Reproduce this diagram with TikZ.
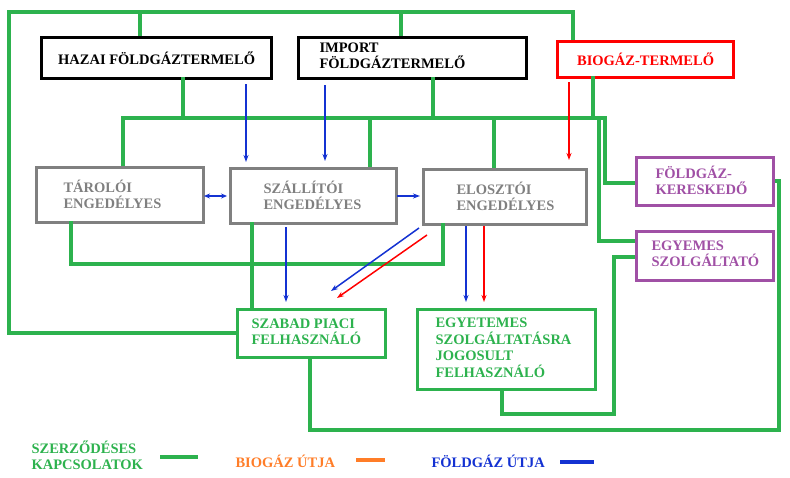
\documentclass[tikz,border=0pt]{standalone}
\usepackage{fontspec}
\setmainfont{Liberation Serif}
\usetikzlibrary{arrows.meta}
\begin{document}
\begin{tikzpicture}[x=1pt,y=-1pt,
  every node/.style={font=\fontsize{14.5}{16}\selectfont\bfseries},
  box/.style={draw,line width=3.2pt,anchor=north west,inner sep=0pt,align=left},
  gl/.style={draw=grn,line width=3.2pt},
  ba/.style={draw=blu,line width=1.5pt,-{Stealth[length=7pt,width=5pt]}},
  ra/.style={draw=red,line width=1.5pt,-{Stealth[length=7pt,width=5pt]}}]
\definecolor{grn}{RGB}{45,178,78}
\definecolor{blu}{RGB}{20,50,210}
\definecolor{pur}{RGB}{160,80,165}
\definecolor{gry}{RGB}{128,128,128}
\definecolor{org}{RGB}{255,125,40}
\useasboundingbox (0,0) rectangle (790,477);
% boxes
\node[box,minimum width=230pt,minimum height=41pt] (haz) at (40,36) {};
\node at (haz.center) {HAZAI FÖLDGÁZTERMELŐ};
\node[box,minimum width=228pt,minimum height=41pt] (imp) at (297,36) {};
\node[align=left,anchor=west] at (316,56) {IMPORT\\FÖLDGÁZTERMELŐ};
\node[box,draw=red,text=red,minimum width=176pt,minimum height=36pt] (bio) at (556,40) {};
\node[text=red] at (bio.center) {BIOGÁZ-TERMELŐ};
\node[box,draw=gry,minimum width=167pt,minimum height=55pt] (tar) at (35,166) {};
\node[text=gry,align=left,anchor=west] at (60,194) {TÁROLÓI\\ENGEDÉLYES};
\node[box,draw=gry,minimum width=166pt,minimum height=55pt] (sza) at (229,167) {};
\node[text=gry,align=left,anchor=west] at (260,195) {SZÁLLÍTÓI\\ENGEDÉLYES};
\node[box,draw=gry,minimum width=163pt,minimum height=55pt] (elo) at (422,168) {};
\node[text=gry,align=left,anchor=west] at (453,196) {ELOSZTÓI\\ENGEDÉLYES};
\node[box,draw=pur,minimum width=137pt,minimum height=48pt] (ker) at (635,156) {};
\node[text=pur,align=left,anchor=west] at (652,180) {FÖLDGÁZ-\\KERESKEDŐ};
\node[box,draw=pur,minimum width=137pt,minimum height=49pt] (egy) at (635,230) {};
\node[text=pur,align=left,anchor=west] at (648,254) {EGYEMES\\SZOLGÁLTATÓ};
\node[box,draw=grn,minimum width=148pt,minimum height=48pt] (fel) at (236,308) {};
\node[text=grn,align=left,anchor=west] at (248,332) {SZABAD PIACI\\FELHASZNÁLÓ};
\node[box,draw=grn,minimum width=178pt,minimum height=80pt] (jog) at (416,308) {};
\node[text=grn,align=left,anchor=west,font=\fontsize{14.5}{16.5}\selectfont\bfseries] at (432,348) {EGYETEMES\\SZOLGÁLTATÁSRA\\JOGOSULT\\FELHASZNÁLÓ};
% green contract lines
\coordinate (tl) at (9,12);
\draw[gl] (fel.west |- 0,333) -| (tl) -| (573,40);
\draw[gl] (140,12) -- (140,36);
\draw[gl] (401,12) -- (401,36);
\draw[gl] (123,166) |- (605,118) |- (ker.west |- 0,183);
\draw[gl] (183,77) -- (183,118);
\draw[gl] (433,77) -- (433,118);
\draw[gl] (593,76) -- (593,118);
\draw[gl] (370,118) -- (370,167);
\draw[gl] (494,118) -- (494,168);
\draw[gl] (599,118) |- (egy.west |- 0,241);
\draw[gl] (71,221) |- (443,264) -- (443,223);
\draw[gl] (252,222) -- (252,308);
\draw[gl] (310,356) |- (779,430) |- (ker.east |- 0,181);
\draw[gl] (502,388) |- (614,414) |- (egy.west |- 0,257);
% arrows
\draw[ba] (246,84) -- (246,162);
\draw[ba] (325,85) -- (325,161);
\draw[blu,line width=1.5pt,{Stealth[length=6pt,width=5pt]}-{Stealth[length=6pt,width=5pt]}] (204,196) -- (227,196);
\draw[ba] (397,196) -- (420,196);
\draw[ba] (286,227) -- (286,302);
\draw[ba] (419,228) -- (331,291);
\draw[ra] (427,235) -- (337,298);
\draw[ba] (466,226) -- (466,302);
\draw[ra] (484,226) -- (484,302);
\draw[ra] (569,82) -- (569,160);
% legend
\node[text=grn,align=left,anchor=west] (l1) at (28,455) {SZERZŐDÉSES\\KAPCSOLATOK};
\draw[gl] (160,457) -- (198,457);
\node[text=org,anchor=west] (l2) at (232,461) {BIOGÁZ ÚTJA};
\draw[org,line width=3.5pt] (356,460) -- (385,460);
\node[text=blu,anchor=west] (l3) at (428,461) {FÖLDGÁZ ÚTJA};
\draw[blu,line width=3.5pt] (560,462) -- (594,462);
\end{tikzpicture}
\end{document}
